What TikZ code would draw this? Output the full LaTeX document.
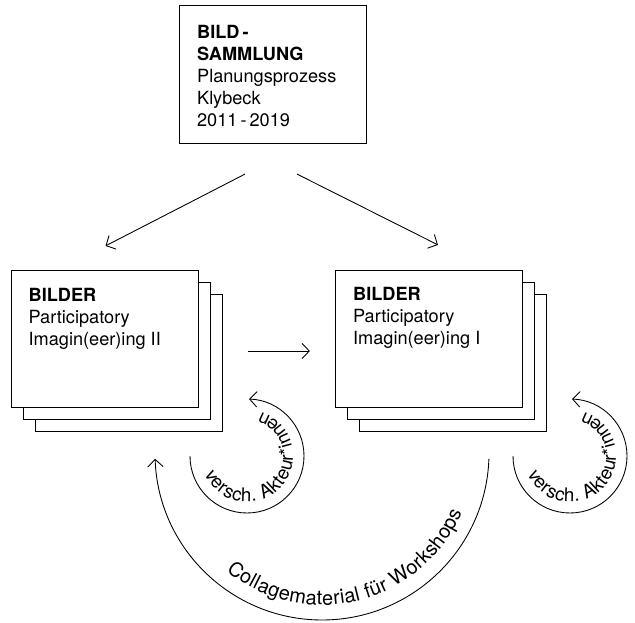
\documentclass[tikz,border=0pt]{standalone}
\usepackage{fontspec}
\setmainfont{TeX Gyre Heros}
\usepackage{tikz}
\usetikzlibrary{arrows.meta}
\usetikzlibrary{decorations.text}

\begin{document}
\begin{tikzpicture}[x=0.03cm, y=0.03cm]
		\tikzset{sheet/.style={shape = rectangle, draw, line width = 1pt, fill = white,
				minimum width = 5.61cm, minimum height = 4.11cm, inner sep = 0pt}}
		\tikzset{boxtext/.style={anchor = north west, inner sep = 0pt, align = left,
				font = \fontsize{15.5}{18.7}\selectfont}}
		\tikzset{edge/.style={-{Straight Barb[length = 2.2mm, width = 4.6mm]}, line width = 0.75pt}}
		\tikzset{curved/.style 2 args={decorate,
				decoration={text along path,
					text align = fit to path,
					text = {|\fontsize{#1}{#1}\selectfont|#2}}}}
					\useasboundingbox (0,0) rectangle (635,-623);
					%boxes
					\node[sheet, minimum height = 4.14cm] (samm) at (273,-74.5) {};
					\node[boxtext] (sammt) at ([shift={(18,-20)}]samm.north west)
					{\textbf{BILD\,-}\\\textbf{SAMMLUNG}\\Planungsprozess\\Klybeck\\2011\,-\,2019};
					\foreach \d in {24,12} {
						\node[sheet] (imgII\d) at (105+\d,-339-\d) {};
						\node[sheet] (imgI\d) at (429+\d,-339-\d) {};
					}
					\node[sheet] (imgII) at (105,-339) {};
					\node[boxtext] (imgIIt) at ([shift={(17.5,-18)}]imgII.north west)
					{\textbf{BILDER}\\Participatory\\Imagin(eer)ing II};
					\node[sheet] (imgI) at (429,-339) {};
					\node[boxtext] (imgIt) at ([shift={(18,-17)}]imgI.north west)
					{\textbf{BILDER}\\Participatory\\Imagin(eer)ing I};
					%edges
					\draw[edge] ([shift={(-28,-30)}]samm.south) -- ([shift={(0.5,24)}]imgII.north);
					\draw[edge] ([shift={(24,-30)}]samm.south) -- ([shift={(9,25)}]imgI.north);
					\draw[edge] ([shift={(48.5,-12)}]imgII.east) -- ([shift={(-25,-12)}]imgI.west);
					%loops
					\coordinate (cII) at (247,-456);
					\coordinate (cI) at (570,-456);
					\coordinate (cB) at (322,-453);
					\draw[edge] (cII) ++(180:57) arc[start angle = 180, end angle = 448, radius = 57];
					\draw[edge] (cI) ++(180:57) arc[start angle = 180, end angle = 448, radius = 57];
					\draw[edge] (cB) ++(-2:167) arc[start angle = -2, end angle = -178, radius = 167];
					\path[curved={16}{versch. Akteur*innen}] (cII) ++(203:46) arc[start angle = 203, end angle = 432, radius = 46];
					\path[curved={16}{versch. Akteur*innen}] (cI) ++(203:46) arc[start angle = 203, end angle = 432, radius = 46];
					\path[curved={17}{Collagematerial für Workshops}] (cB) ++(-129:152) arc[start angle = -129, end angle = -23, radius = 152];
					
\end{tikzpicture}
\end{document}
